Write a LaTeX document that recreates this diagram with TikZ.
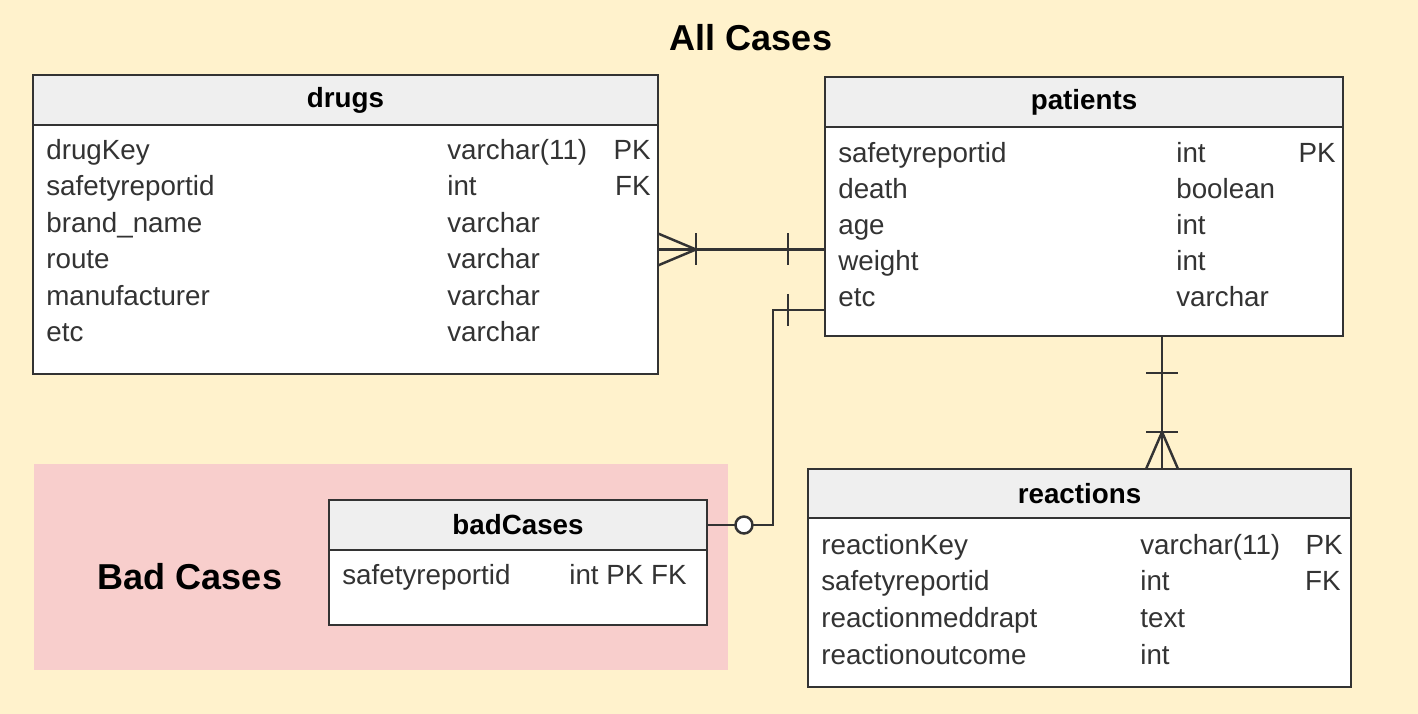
\documentclass[tikz,border=0pt]{standalone}
\usepackage{fontspec}
\setmainfont{Liberation Sans}
\usetikzlibrary{positioning}

\definecolor{caseyellow}{HTML}{FFF2CC}
\definecolor{casered}{HTML}{F8CECC}
\definecolor{headgray}{HTML}{EFEFEF}
\definecolor{linegray}{HTML}{333333}
\newcommand{\rowfont}{\fontsize{15.8}{18}\selectfont}

\begin{document}
\begin{tikzpicture}[
		x=0.02cm, y=-0.02cm,
		tablehead/.style={rectangle, draw=linegray, fill=headgray, line width=1.4pt, outer sep=0pt, inner sep=0pt, font=\rowfont\bfseries},
		tablebody/.style={rectangle, draw=linegray, fill=white, line width=1.4pt, outer sep=0pt, inner sep=0pt},
		field/.style={anchor=base west, inner sep=0pt, text=linegray, font=\rowfont},
		keyfield/.style={anchor=base east, inner sep=0pt, text=linegray, font=\rowfont},
		caption/.style={font=\fontsize{20.5}{24}\selectfont\bfseries, inner sep=0pt},
		rel/.style={draw=linegray, line width=1.4pt},
		zero/.style={circle, draw=linegray, fill=white, line width=1.4pt, minimum size=0.34cm, inner sep=0pt}
		]
		
		%==================== Regions ====================%
		\fill[caseyellow] (0,0) rectangle (1418,714);
		\fill[casered] (34,464) rectangle (728,670);
		\node[caption] (allcases) at (751,38) {All Cases};
		\node[caption] (badcaption) at (190,577) {Bad Cases};
		
		%==================== Tables ====================%
		\node[tablehead, minimum width=12.5cm, minimum height=1cm] (drugs) at (345.5,100) {drugs};
		\node[tablebody, minimum width=12.5cm, minimum height=4.98cm, below=0pt of drugs] (drugs-body) {};
		
		\node[tablehead, minimum width=10.36cm, minimum height=1cm] (patients) at (1084,102) {patients};
		\node[tablebody, minimum width=10.36cm, minimum height=4.18cm, below=0pt of patients] (patients-body) {};
		
		\node[tablehead, minimum width=10.86cm, minimum height=0.98cm] (reactions) at (1079.5,493.5) {reactions};
		\node[tablebody, minimum width=10.86cm, minimum height=3.38cm, below=0pt of reactions] (reactions-body) {};
		
		\node[tablehead, minimum width=7.56cm, minimum height=1cm] (badCases) at (518,525) {badCases};
		\node[tablebody, minimum width=7.56cm, minimum height=1.5cm, below=0pt of badCases] (badCases-body) {};
		
		%==================== Fields ====================%
		\foreach \fname/\ftype [count=\i] in {drugKey/varchar(11), safetyreportid/int, brand\_name/varchar, route/varchar, manufacturer/varchar, etc/varchar}{
			\node[field] (drugs-f\i) at (46,{159+36.5*(\i-1)}) {\fname};
			\node[field] (drugs-t\i) at (447,{159+36.5*(\i-1)}) {\ftype};
		}
		\node[keyfield] (drugs-k1) at (651,159) {PK};
		\node[keyfield] (drugs-k2) at (651,195.5) {FK};
		
		\foreach \fname/\ftype [count=\i] in {safetyreportid/int, death/boolean, age/int, weight/int, etc/varchar}{
			\node[field] (patients-f\i) at (838,{162+36*(\i-1)}) {\fname};
			\node[field] (patients-t\i) at (1176,{162+36*(\i-1)}) {\ftype};
		}
		\node[keyfield] (patients-k1) at (1336,162) {PK};
		
		\foreach \fname/\ftype [count=\i] in {reactionKey/varchar(11), safetyreportid/int, reactionmeddrapt/text, reactionoutcome/int}{
			\node[field] (reactions-f\i) at (821,{554+36.8*(\i-1)}) {\fname};
			\node[field] (reactions-t\i) at (1140,{554+36.8*(\i-1)}) {\ftype};
		}
		\node[keyfield] (reactions-k1) at (1343,554) {PK};
		\node[keyfield] (reactions-k2) at (1341,590.8) {FK};
		
		\node[field] (badCases-f1) at (342,584) {safetyreportid};
		\node[field] (badCases-t1) at (569,584) {int PK FK};
		
		%==================== Relations ====================%
		% drugs (many) -- patients (one)
		\draw[rel] (drugs-body.east) -- (drugs-body.east -| patients-body.west);
		\draw[rel] (drugs-body.east) ++(0,-16) -- ++(38,16) -- ++(-38,16);
		\draw[rel] (drugs-body.east) ++(38,-16) -- ++(0,32);
		\draw[rel] (drugs-body.east -| patients-body.west) ++(-37,-16) -- ++(0,32);
		
		% patients (one) -- badCases (zero or one)
		\path (patients-body.south west) ++(0,-26) coordinate (pb-start);
		\draw[rel] (pb-start) -- ++(-52,0) |- (badCases.east);
		\draw[rel] (pb-start) ++(-37,-16) -- ++(0,32);
		\path (badCases.east) ++(37,0) node[zero] (badCases-zero) {};
		
		% patients (one) -- reactions (many)
		\path (patients-body.south west) ++(337,0) coordinate (pr-top);
		\draw[rel] (pr-top) -- (pr-top |- reactions.north);
		\draw[rel] (pr-top) ++(-16,37) -- ++(32,0);
		\draw[rel] (pr-top |- reactions.north) ++(-16,-37) -- ++(32,0);
		\draw[rel] (pr-top |- reactions.north) ++(-16,0) -- ++(16,-37) -- ++(16,37);
		
	\end{tikzpicture}
\end{document}
